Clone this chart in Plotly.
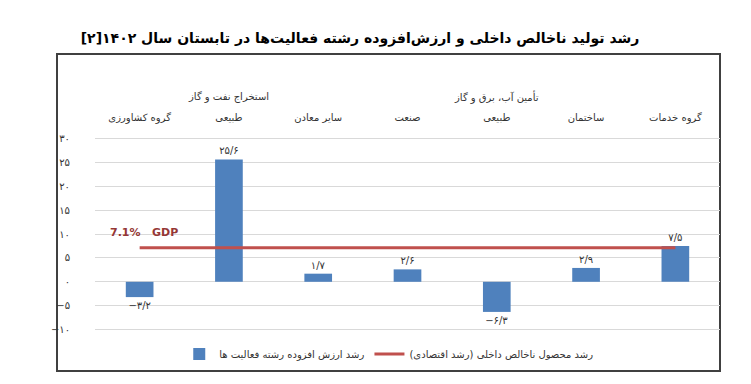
import plotly.graph_objects as go

title = "رشد تولید ناخالص داخلی و ارزش‌افزوده رشته فعالیت‌ها در تابستان سال ۱۴۰۲[۲]"
categories = ["گروه کشاورزی", "طبیعی", "سایر معادن", "صنعت",
              "طبیعی", "ساختمان", "گروه خدمات"]
category_groups = ["", "استخراج نفت و گاز", "", "", "تأمین آب، برق و گاز", "", ""]
values = [-3.2, 25.6, 1.7, 2.6, -6.3, 2.9, 7.5]
value_labels = ["−۳/۲", "۲۵/۶", "۱/۷", "۲/۶", "−۶/۳", "۲/۹", "۷/۵"]
gdp_growth = 7.1
gdp_label = "7.1%   GDP"
y_ticks = [30, 25, 20, 15, 10, 5, 0, -5, -10]
y_tick_labels = ["۳۰", "۲۵", "۲۰", "۱۵", "۱۰", "۵", "۰", "−۵", "−۱۰"]
bar_name = "رشد ارزش افزوده رشته فعالیت ها"
line_name = "رشد محصول ناخالص داخلی (رشد اقتصادی)"

FONT = "DejaVu Sans"
xs = list(range(len(categories)))

# plot-area geometry in figure pixels (range padded so edge gridlines show)
L, R, T, B = 87, 712, 128, 324
W, H = 751, 384
YMIN, YMAX = -10.5, 30.5

fig = go.Figure()
fig.add_trace(go.Bar(
    x=xs, y=values, name=bar_name, width=0.31,
    marker=dict(color="#4F81BD", line=dict(width=0)),
    text=value_labels, textposition="outside", cliponaxis=False,
    textfont=dict(family=FONT, size=10, color="#333333"),
))
fig.add_trace(go.Scatter(
    x=[xs[0], xs[-1]], y=[gdp_growth, gdp_growth], mode="lines", name=line_name,
    line=dict(color="#C0504D", width=3),
))

fig.add_annotation(
    x=-0.355, y=10.4, xref="x", yref="y", text=f"<b>{gdp_label}</b>",
    showarrow=False, xanchor="left", yanchor="middle",
    font=dict(family=FONT, size=11, color="#953735"),
)

pw, ph = R - L, B - T

# upper row of the category labels
for x, g in zip(xs, category_groups):
    if g:
        fig.add_annotation(
            x=x, y=(B - 89) / ph, xref="x", yref="paper", text=g, showarrow=False,
            xanchor="center", yanchor="middle",
            font=dict(family=FONT, size=10, color="#333333"),
        )

# outer frame
fig.add_shape(type="rect", xref="paper", yref="paper",
              x0=(49 - L) / pw, x1=(712 - L) / pw,
              y0=(B - 363) / ph, y1=(B - 46) / ph,
              line=dict(color="#404040", width=2), fillcolor="rgba(0,0,0,0)", layer="below")

fig.update_layout(
    width=W, height=H,
    margin=dict(l=L, r=W - R, t=T, b=H - B, autoexpand=False),
    paper_bgcolor="white", plot_bgcolor="white",
    title=dict(text=f"<b>{title}</b>", x=352 / W, xanchor="center",
               y=1 - 30 / H, yanchor="middle",
               font=dict(family=FONT, size=14, color="black")),
    bargap=0.69,
    showlegend=True,
    legend=dict(orientation="h", x=0.47, xanchor="center",
                y=(B - 346) / ph, yanchor="middle",
                font=dict(family=FONT, size=10, color="#333333"), itemwidth=30,
                bgcolor="rgba(0,0,0,0)"),
    font=dict(family=FONT),
)
fig.update_xaxes(
    side="top", tickmode="array", tickvals=xs, ticktext=categories, automargin=False,
    range=[-0.5, len(categories) - 0.5], showgrid=False, zeroline=False, showline=False,
    ticks="", ticklabelstandoff=12, tickfont=dict(family=FONT, size=10, color="#333333"),
)
fig.update_yaxes(
    range=[YMIN, YMAX], tickmode="array", tickvals=y_ticks, ticktext=y_tick_labels,
    automargin=False,
    showgrid=True, gridcolor="#D9D9D9", gridwidth=1, zeroline=False, showline=False,
    ticks="", ticklabelstandoff=24, tickfont=dict(family=FONT, size=10, color="#333333"),
)

fig.write_html("out.html")
